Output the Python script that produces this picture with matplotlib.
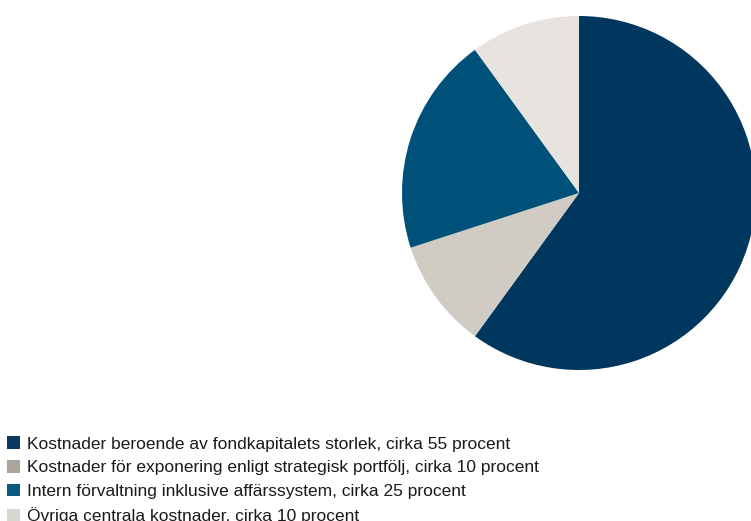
import matplotlib.pyplot as plt
from matplotlib.patches import Patch

labels = ["Kostnader beroende av fondkapitalets storlek, cirka 55 procent",
          "Kostnader för exponering enligt strategisk portfölj, cirka 10 procent",
          "Intern förvaltning inklusive affärssystem, cirka 25 procent",
          "Övriga centrala kostnader, cirka 10 procent"]
shares = [60, 10, 20, 10]
pie_colors = ["#00375e", "#d0cbc3", "#00517a", "#e7e4df"]
legend_colors = ["#0a3a62", "#aba49c", "#0a5a80", "#d9d6d0"]

plt.rcParams['font.family'] = ['Liberation Sans', 'DejaVu Sans']

W, H = 751, 521
fig = plt.figure(figsize=(W/100, H/100), dpi=100)

# pie centre (579,193) px, radius 177 px
cx, cy, r = 579, 193, 177
ax = fig.add_axes([(cx-r)/W, (H-cy-r)/H, 2*r/W, 2*r/H])
ax.pie(shares, colors=pie_colors, startangle=90, counterclock=False,
       radius=1, wedgeprops=dict(linewidth=0))
ax.set_xlim(-1, 1)
ax.set_ylim(-1, 1)
ax.axis('off')

handles = [Patch(facecolor=c, edgecolor='none') for c in legend_colors]
fig.legend(handles, labels, loc='lower left', bbox_to_anchor=(-0.0067, -0.03),
           frameon=False, fontsize=12.5, handlelength=0.75, handleheight=0.75,
           handletextpad=0.4, labelspacing=0.48, borderaxespad=0.3,
           labelcolor='#1a1a1a')

fig.savefig("out.png", dpi=100)
